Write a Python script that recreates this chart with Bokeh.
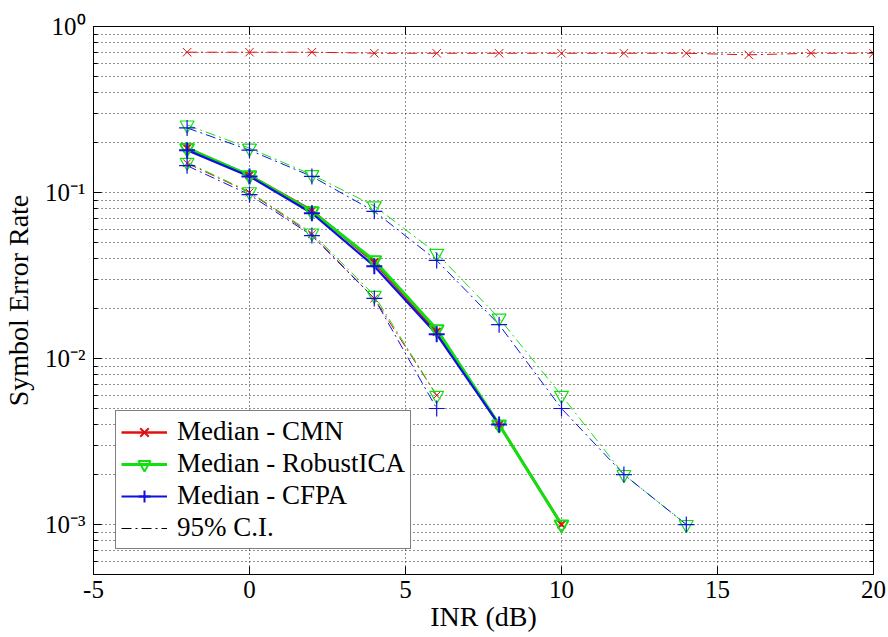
from bokeh.plotting import figure
from bokeh.models import (LogAxis, LinearAxis, Legend, LegendItem, CustomJSTickFormatter,
                          FixedTicker, ColumnDataSource)
from bokeh.embed import file_html
from bokeh.resources import INLINE

# ---------------- data ----------------
inr_all = [-2, 0, 2, 4, 6, 8, 10, 12, 14, 16, 18, 20]
cmn_upper_ci = [0.70, 0.70, 0.70, 0.69, 0.69, 0.69, 0.69, 0.69, 0.69, 0.675, 0.69, 0.69]

inr_med_cmn = [-2, 0, 2, 4, 6, 8, 10]
cmn_median = [0.185, 0.127, 0.078, 0.038, 0.0145, 0.004, 0.001]

inr_med_rica = [-2, 0, 2, 4, 6, 8, 10]
rica_median = [0.185, 0.127, 0.077, 0.039, 0.015, 0.004, 0.001]

inr_med_cfpa = [-2, 0, 2, 4, 6, 8]
cfpa_median = [0.180, 0.125, 0.075, 0.036, 0.014, 0.004]

inr_up = [-2, 0, 2, 4, 6, 8, 10, 12, 14]
rica_upper_ci = [0.255, 0.185, 0.128, 0.083, 0.043, 0.0175, 0.006, 0.002, 0.001]
cfpa_upper_ci = [0.245, 0.180, 0.125, 0.077, 0.039, 0.016, 0.005, 0.002, 0.001]

inr_low = [-2, 0, 2, 4, 6]
rica_lower_ci = [0.152, 0.101, 0.057, 0.024, 0.006]
cfpa_lower_ci = [0.145, 0.097, 0.055, 0.023, 0.005]
cmn_lower_ci = [0.150, 0.100, 0.056, 0.023, 0.006]

x_ticks = [-5, 0, 5, 10, 15, 20]
x_tick_labels = ["-5", "0", "5", "10", "15", "20"]
y_tick_values = [1e-3, 1e-2, 1e-1, 1.0]
y_tick_labels = ["10\u207b\u00b3", "10\u207b\u00b2", "10\u207b\u00b9", "10\u2070"]
y_minor_ticks = [m * 10.0 ** e for e in range(-4, 0) for m in range(2, 10)]

legend_labels = ["Median - CMN", "Median - RobustICA", "Median - CFPA", "95% C.I."]

RED = "#e01010"
GREEN = "#10e010"
BLUE = "#1010e0"
SERIF = "Liberation Serif"
DASHDOT = "10 4 2 4"

# ---------------- figure ----------------
p = figure(width=888, height=637, y_axis_type="log", x_range=(-5, 20), y_range=(5e-4, 1.0),
           output_backend="svg", toolbar_location=None,
           min_border_left=90, min_border_right=15, min_border_top=26, min_border_bottom=63)
p.background_fill_color = "white"
p.border_fill_color = "white"
p.outline_line_color = "black"
p.outline_line_width = 1

# axes
p.xaxis.ticker = FixedTicker(ticks=x_ticks)
p.xaxis.major_label_overrides = {t: l for t, l in zip(x_ticks, x_tick_labels)}
p.yaxis.ticker = FixedTicker(ticks=y_tick_values, minor_ticks=y_minor_ticks)
p.yaxis.formatter = CustomJSTickFormatter(args=dict(vals=y_tick_values, labs=y_tick_labels), code="""
for (let i = 0; i < vals.length; i++) {
  if (Math.abs(Math.log10(tick) - Math.log10(vals[i])) < 1e-6) return labs[i];
}
return '';
""")
for ax in (p.xaxis[0], p.yaxis[0]):
    ax.major_label_text_font = SERIF
    ax.major_label_text_font_size = "25px"
    ax.major_label_text_color = "black"
    ax.axis_label_text_font = SERIF
    ax.axis_label_text_font_size = "28px"
    ax.axis_label_text_font_style = "normal"
    ax.axis_label_text_color = "black"
    ax.axis_line_color = "black"
    ax.major_tick_in = 8
    ax.major_tick_out = 0
    ax.minor_tick_in = 4
    ax.minor_tick_out = 0
    ax.major_tick_line_color = "black"
    ax.minor_tick_line_color = "black"
p.xaxis.minor_tick_line_color = None
p.xaxis.axis_label = "INR (dB)"
p.yaxis.axis_label = "Symbol Error Rate"
p.xaxis.major_label_standoff = 6
p.xaxis.axis_label_standoff = 0
p.yaxis.major_label_standoff = 8
p.yaxis.axis_label_standoff = 8

# box ticks on top and right (no labels)
top_ax = LinearAxis(ticker=FixedTicker(ticks=x_ticks),
                    formatter=CustomJSTickFormatter(code="return ' ';"),
                    major_label_text_font_size="6px",
                    major_tick_in=8, major_tick_out=0, minor_tick_line_color=None,
                    major_label_standoff=0, axis_line_color="black")
right_ax = LogAxis(ticker=FixedTicker(ticks=y_tick_values, minor_ticks=y_minor_ticks),
                   formatter=CustomJSTickFormatter(code="return ' ';"),
                   major_label_text_font_size="6px", major_tick_in=8, major_tick_out=0,
                   minor_tick_in=4, minor_tick_out=0, major_label_standoff=0,
                   axis_line_color="black")
p.add_layout(top_ax, "above")
p.add_layout(right_ax, "right")

# grid
p.xgrid.ticker = FixedTicker(ticks=x_ticks)
p.ygrid.ticker = FixedTicker(ticks=y_tick_values, minor_ticks=y_minor_ticks)
for g in (p.xgrid[0], p.ygrid[0]):
    g.grid_line_color = "#222222"
    g.grid_line_dash = "1 3"
    g.grid_line_width = 1
p.ygrid.minor_grid_line_color = "#222222"
p.ygrid.minor_grid_line_dash = "1 3"
p.ygrid.minor_grid_line_width = 1

# ---------------- CI lines ----------------
p.line(inr_all, cmn_upper_ci, line_color=RED, line_width=1, line_dash=DASHDOT)
p.scatter(inr_all, cmn_upper_ci, marker="x", size=12, line_color=RED, line_width=1)

p.line(inr_up, rica_upper_ci, line_color=GREEN, line_width=1, line_dash=DASHDOT)
p.line(inr_up, cfpa_upper_ci, line_color=BLUE, line_width=1, line_dash=DASHDOT)
p.line(inr_low, cmn_lower_ci, line_color=RED, line_width=1, line_dash=DASHDOT)
p.line(inr_low, rica_lower_ci, line_color=GREEN, line_width=1, line_dash=DASHDOT)
p.line(inr_low, cfpa_lower_ci, line_color=BLUE, line_width=1, line_dash=DASHDOT)

p.scatter(inr_low, cmn_lower_ci, marker="x", size=11, line_color=RED, line_width=1)
p.scatter(inr_up, rica_upper_ci, marker="inverted_triangle", size=14, fill_color=None,
          line_color=GREEN, line_width=1.2)
p.scatter(inr_low, rica_lower_ci, marker="inverted_triangle", size=14, fill_color=None,
          line_color=GREEN, line_width=1.2)
p.scatter(inr_up, cfpa_upper_ci, marker="cross", size=16, line_color=BLUE, line_width=1.2)
p.scatter(inr_low, cfpa_lower_ci, marker="cross", size=16, line_color=BLUE, line_width=1.2)

# ---------------- medians ----------------
r_cmn_l = p.line(inr_med_cmn, cmn_median, line_color=RED, line_width=2.5)
r_rica_l = p.line(inr_med_rica, rica_median, line_color=GREEN, line_width=3)
r_cfpa_l = p.line(inr_med_cfpa, cfpa_median, line_color=BLUE, line_width=2.2)
r_cmn_m = p.scatter(inr_med_cmn, cmn_median, marker="x", size=11, line_color=RED, line_width=2)
r_rica_m = p.scatter(inr_med_rica, rica_median, marker="inverted_triangle", size=14,
                     fill_color=None, line_color=GREEN, line_width=2)
r_cfpa_m = p.scatter(inr_med_cfpa, cfpa_median, marker="cross", size=16, line_color=BLUE,
                     line_width=2)

# legend-only renderer for the C.I. entry (kept outside the visible range)
ci_src = ColumnDataSource(data=dict(x=[-100, -99], y=[0.5, 0.5]))
r_ci = p.line("x", "y", source=ci_src, line_color="black", line_width=1, line_dash=DASHDOT)

legend = Legend(items=[
    LegendItem(label=legend_labels[0], renderers=[r_cmn_l, r_cmn_m]),
    LegendItem(label=legend_labels[1], renderers=[r_rica_l, r_rica_m]),
    LegendItem(label=legend_labels[2], renderers=[r_cfpa_l, r_cfpa_m]),
    LegendItem(label=legend_labels[3], renderers=[r_ci]),
], location=(22, 25))
legend.label_text_font = SERIF
legend.label_text_font_size = "27px"
legend.label_text_color = "black"
legend.border_line_color = "black"
legend.border_line_width = 1
legend.background_fill_color = "white"
legend.background_fill_alpha = 1.0
legend.glyph_width = 46
legend.glyph_height = 30
legend.label_height = 30
legend.label_standoff = 10
legend.spacing = 1
legend.padding = 5
legend.margin = 0
p.add_layout(legend, "center")

open("out.html", "w").write(file_html(p, INLINE))
